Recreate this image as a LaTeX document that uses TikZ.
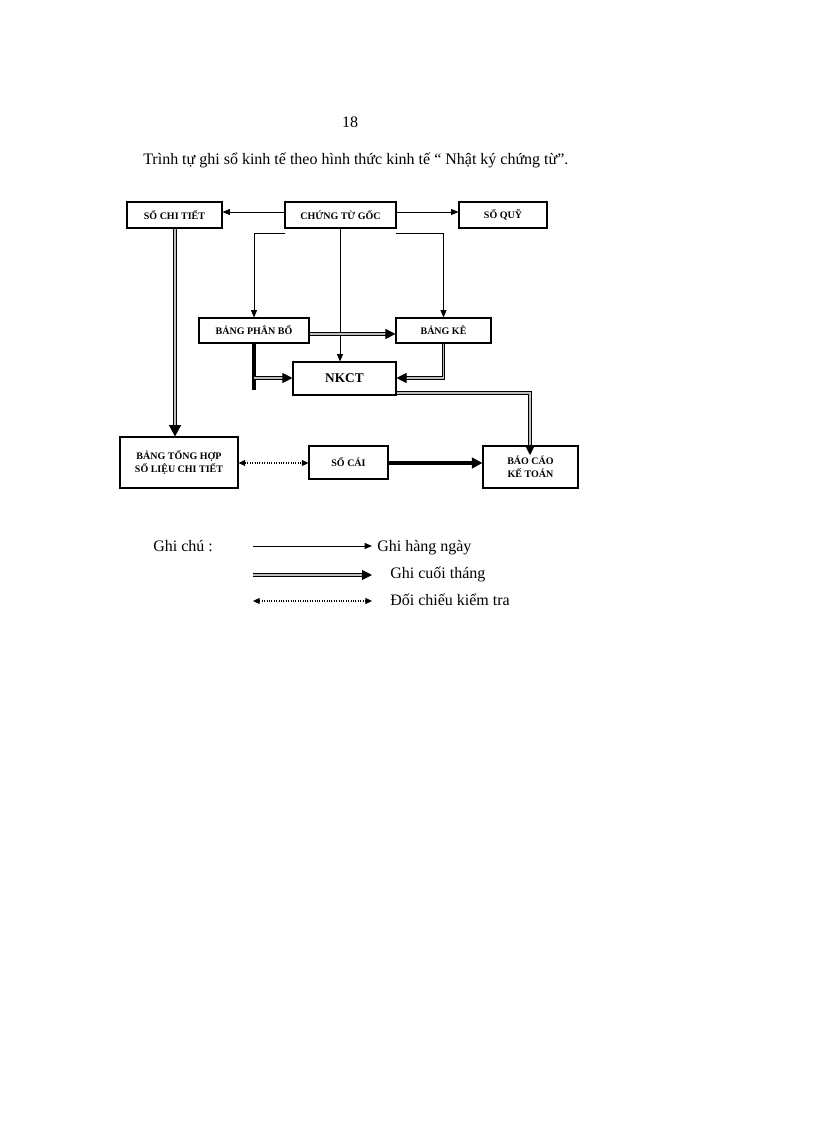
\documentclass[tikz,border=0pt]{standalone}
\usepackage{fontspec}
\setmainfont{Liberation Serif}
\usetikzlibrary{arrows.meta}
\tikzset{
  box/.style={draw, line width=0.8pt, inner sep=0pt, align=center, font=\bfseries\fontsize{7.5}{10}\selectfont},
  arr/.style={line width=0.6pt, -{Triangle[length=5.5pt,width=4.5pt]}},
  dbl/.style={double=black!25, double distance=1pt, line width=0.7pt, -{Triangle[length=7.5pt,width=7.5pt]}},
  dblbig/.style={double=black!25, double distance=1.3pt, line width=1pt, -{Triangle[length=8.5pt,width=9pt]}},
  thick2/.style={line width=3pt, -{Triangle[length=8pt,width=8pt]}},
  dotarr/.style={line width=0.8pt, densely dotted, {Triangle[length=5pt,width=4.5pt]}-{Triangle[length=5pt,width=4.5pt]}},
  txt/.style={font=\fontsize{12}{14}\selectfont, inner sep=0pt}
}
\begin{document}
\begin{tikzpicture}[x=0.75pt,y=-0.75pt]
\useasboundingbox[fill=white] (0,0) rectangle (816,1123);

\node[txt] (pg) at (350,122) {18};
\node[txt, anchor=base west] (title) at (143,165) {Trình tự ghi sổ kinh tế theo hình thức kinh tế “ Nhật ký chứng từ”.};

\node[box, minimum width={95*0.75pt}, minimum height={26*0.75pt}] (sct) at (174.5,215) {SỔ CHI TIẾT};
\node[box, minimum width={111*0.75pt}, minimum height={26*0.75pt}] (ctg) at (340.5,215) {CHỨNG TỪ GỐC};
\node[box, minimum width={88*0.75pt}, minimum height={26*0.75pt}] (squy) at (503,215) {SỔ QUỸ};
\node[box, minimum width={110*0.75pt}, minimum height={25*0.75pt}] (bpb) at (254,330.5) {BẢNG PHÂN BỔ};
\node[box, minimum width={95*0.75pt}, minimum height={25*0.75pt}] (bk) at (443.5,330.5) {BẢNG KÊ};
\node[box, minimum width={103*0.75pt}, minimum height={33*0.75pt}, font=\bfseries\fontsize{10}{12}\selectfont] (nkct) at (344.5,378.5) {NKCT};
\node[box, minimum width={118*0.75pt}, minimum height={51*0.75pt}] (bth) at (179,462.5) {BẢNG TỔNG HỢP\\SỐ LIỆU CHI TIẾT};
\node[box, minimum width={79*0.75pt}, minimum height={33*0.75pt}] (sc) at (348.5,462.5) {SỔ CÁI};
\node[box, minimum width={95*0.75pt}, minimum height={42*0.75pt}] (bckt) at (530.5,467) {BÁO CÁO\\KẾ TOÁN};

% daily arrows from CHUNG TU GOC
\draw[arr] ([yshift=2.25pt]ctg.west) -- ([yshift=2.25pt]sct.east);
\draw[arr] ([yshift=2.25pt]ctg.east) -- ([yshift=2.25pt]squy.west);
\coordinate (cl) at (285,233);
\coordinate (cr) at (396,233);
\draw[arr] (cl) -| (bpb.north);
\draw[arr] (cr) -| (bk.north);
\draw[arr] (ctg.south -| 340,0) -- (nkct.north -| 340,0);

% month-end
\draw[dbl] ([yshift=-2.6pt]bpb.east) -- ([yshift=-2.6pt]bk.west);
\coordinate (bpbbot) at (254,390);
\draw[line width=2.6pt] (bpb.south) -- (bpbbot);
\draw[dbl] (254,378) -- (nkct.west |- 0,378);
\draw[dbl] (bk.south) |- (nkct.east |- 0,378);
\coordinate (bcin) at (530,455);
\draw[dbl] (nkct.east |- 0,393) -| (bcin);
\draw[dblbig] (sct.south -| 175,0) -- (bth.north -| 175,0);
\draw[thick2] (sc.east |- 0,463) -- (bckt.west |- 0,463);

% cross-check
\draw[dotarr] (bth.east |- 0,463) -- (sc.west |- 0,463);

% legend
\node[txt, anchor=base west] (gc) at (153,551) {Ghi chú :};
\coordinate (l1a) at (253,546); \coordinate (l1b) at (372,546);
\coordinate (l2a) at (253,575); \coordinate (l2b) at (372,575);
\coordinate (l3a) at (253,601); \coordinate (l3b) at (372,601);
\draw[arr] (l1a) -- (l1b);
\draw[dbl] (l2a) -- (l2b);
\draw[dotarr] (l3a) -- (l3b);
\node[txt, anchor=base west] (t1) at (377,551) {Ghi hàng ngày};
\node[txt, anchor=base west] (t2) at (390,578) {Ghi cuối tháng};
\node[txt, anchor=base west] (t3) at (390,605) {Đối chiếu kiểm tra};
\end{tikzpicture}
\end{document}
